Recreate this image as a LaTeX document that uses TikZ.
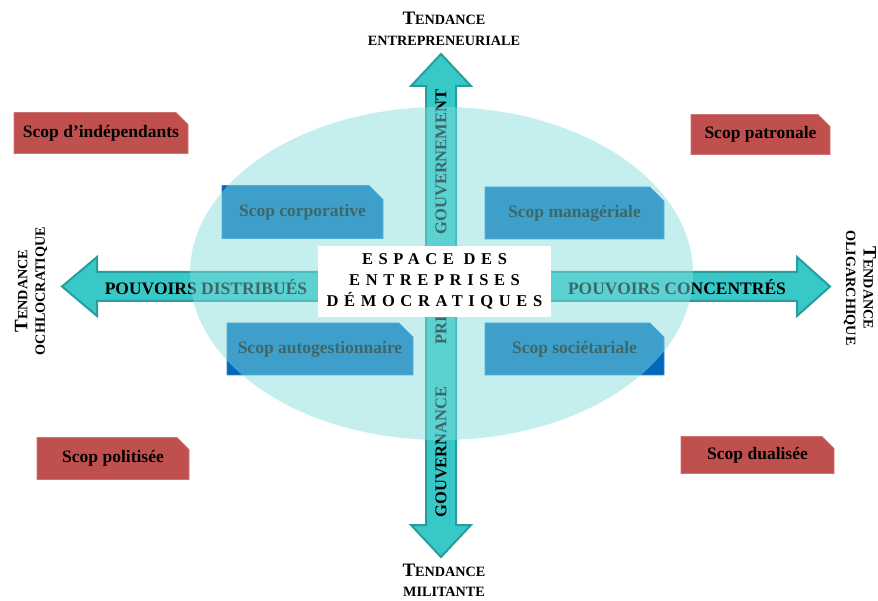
\documentclass[tikz,border=0pt]{standalone}
\usepackage{fontspec}
\setmainfont{Liberation Serif}
\usetikzlibrary{shapes.misc}
\definecolor{arrowfill}{RGB}{56,200,200}
\definecolor{arrowline}{RGB}{38,158,158}
\definecolor{ellfill}{RGB}{132,221,223}
\definecolor{bluebox}{RGB}{0,104,187}
\definecolor{redbox}{RGB}{192,80,77}
\newcommand{\bigT}[1]{{\fontsize{19}{21}\selectfont #1}}
\begin{document}
\begin{tikzpicture}[x=1pt,y=-1pt,
  arrowshape/.style={fill=arrowfill,draw=arrowline,line width=2pt,line join=miter},
  arrowtext/.style={font=\fontsize{17.5}{19}\selectfont\bfseries,inner sep=0pt},
  vtext/.style={font=\fontsize{16.5}{19}\selectfont\bfseries,inner sep=0pt,rotate=90},
  scopblue/.style={chamfered rectangle,chamfered rectangle corners=north east,
     chamfered rectangle xsep=7pt,chamfered rectangle ysep=7pt,
     fill=bluebox,draw=bluebox!80!white,line width=0.6pt,
     font=\fontsize{17.5}{19}\selectfont\bfseries,inner sep=0pt},
  scopred/.style={chamfered rectangle,chamfered rectangle corners=north east,
     chamfered rectangle xsep=6pt,chamfered rectangle ysep=6pt,
     fill=redbox,draw=redbox!80!white,line width=0.6pt,
     font=\fontsize{17.5}{19}\selectfont\bfseries,inner sep=0pt},
  tendance/.style={font=\fontsize{14.2}{20.5}\selectfont\bfseries,align=center,inner sep=0pt},
  tendside/.style={font=\fontsize{14.2}{17.5}\selectfont\bfseries,align=center,inner sep=0pt}]
\useasboundingbox (0,0) rectangle (878,601);
\fill[white] (0,0) rectangle (878,601);
% horizontal double arrow
\draw[arrowshape] (62,286.5) -- (97,257) -- (97,272) -- (797,272) -- (797,257) -- (830,286.5)
  -- (797,316) -- (797,301) -- (97,301) -- (97,316) -- cycle;
% vertical double arrow
\draw[arrowshape] (441,54) -- (471,86) -- (456,86) -- (456,525) -- (471,525) -- (441,557)
  -- (411,525) -- (426,525) -- (426,86) -- (411,86) -- cycle;
% arrow texts
\node[arrowtext] (distrib) at (206,287) {POUVOIRS DISTRIBUÉS};
\node[arrowtext] (concent) at (677,287) {POUVOIRS CONCENTRÉS};
\node[vtext] (gouvt) at (441,162) {GOUVERNEMENT};
\node[vtext] (gouvce) at (441,452) {GOUVERNANCE};
\node[vtext] (pri) at (441,330) {PRI};
% blue boxes
\node[scopblue,minimum width=161pt,minimum height=53pt] (corpo) at (302.5,212) {Scop corporative};
\node[scopblue,minimum width=186pt,minimum height=52pt] (autog) at (320,349) {Scop autogestionnaire};
\node[scopblue,minimum width=179pt,minimum height=52pt] (manag) at (574.5,213) {Scop managériale};
\node[scopblue,minimum width=179pt,minimum height=52pt] (societ) at (574.5,349) {Scop sociétariale};
% ellipse
\fill[ellfill,fill opacity=0.47] (441.5,273.5) ellipse [x radius=251.5,y radius=166.5];
% central box
\node[fill=white,minimum width=233pt,minimum height=71pt,inner sep=0pt,align=center,
  font=\fontsize{16.5}{21}\selectfont\bfseries\addfontfeature{LetterSpace=34}] (espace) at (434.5,281.5)
  {ESPACE DES\\ENTREPRISES\\DÉMOCRATIQUES};
% red boxes
\node[scopred,minimum width=174pt,minimum height=41pt] (indep) at (101,133) {Scop d’indépendants};
\node[scopred,minimum width=139pt,minimum height=40pt] (patro) at (760.5,134.5) {Scop patronale};
\node[scopred,minimum width=152pt,minimum height=42pt] (polit) at (113,458.5) {Scop politisée};
\node[scopred,minimum width=153pt,minimum height=37pt] (dual) at (757.5,455) {Scop dualisée};
% tendance labels
\node[tendance] (tnord) at (444,29) {\bigT{T}ENDANCE\\ENTREPRENEURIALE};
\node[tendance] (tsud) at (444,580.5) {\bigT{T}ENDANCE\\MILITANTE};
\node[tendside,rotate=90] (touest) at (31,291) {\bigT{T}ENDANCE\\OCHLOCRATIQUE};
\node[tendside,rotate=-90] (test) at (860,288) {\bigT{T}ENDANCE\\OLIGARCHIQUE};
\end{tikzpicture}
\end{document}
